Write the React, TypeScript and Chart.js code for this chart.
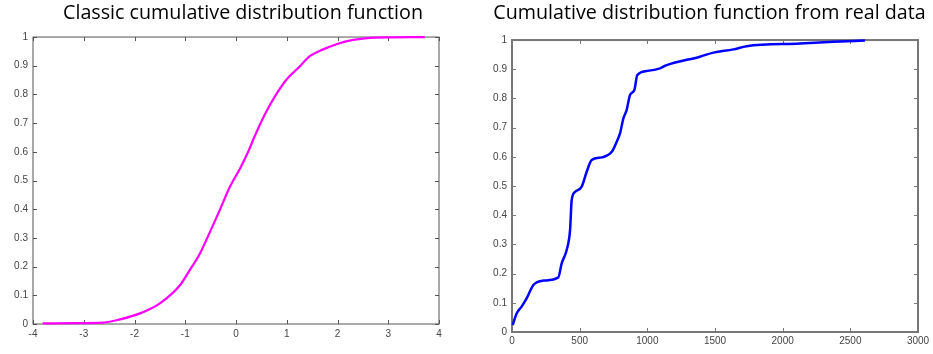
import React, { useEffect, useRef } from "react";
import { Chart, registerables } from "chart.js";

Chart.register(...registerables);

const leftTitle = "Classic cumulative distribution function";
const rightTitle = "Cumulative distribution function from real data";

const leftX = [-3.81, -3.2, -2.61, -2.29, -1.89, -1.5, -1.1, -0.91, -0.71, -0.51, -0.32, -0.12, 0.08, 0.24, 0.37, 0.57, 0.77, 1.0, 1.23, 1.46, 1.72, 1.98, 2.31, 2.64, 3.0, 3.72];
const leftY = [0.002, 0.003, 0.005, 0.016, 0.037, 0.072, 0.136, 0.188, 0.246, 0.322, 0.397, 0.478, 0.542, 0.6, 0.655, 0.731, 0.794, 0.853, 0.893, 0.934, 0.957, 0.975, 0.99, 0.997, 0.999, 1.0];

const rightX = [5, 35, 71, 108, 158, 232, 342, 367, 404, 429, 441, 466, 515, 552, 589, 663, 737, 774, 798, 823, 847, 872, 904, 926, 995, 1094, 1143, 1389, 1488, 1636, 1734, 2128, 2375, 2608];
const rightY = [0.024, 0.064, 0.087, 0.115, 0.161, 0.176, 0.187, 0.235, 0.281, 0.349, 0.452, 0.48, 0.498, 0.549, 0.589, 0.598, 0.617, 0.652, 0.68, 0.732, 0.76, 0.812, 0.829, 0.88, 0.894, 0.903, 0.914, 0.943, 0.957, 0.968, 0.979, 0.988, 0.994, 0.998];

const leftXTicks = { min: -4, max: 4, step: 1 };
const rightXTicks = { min: 0, max: 3000, step: 500 };
const yTicks = { min: 0, max: 1, step: 0.1 };

const boxPlugin = {
  id: "matlabBox",
  beforeDatasetsDraw(chart: any, _args: any, opts: any) {
    const { ctx, chartArea: a } = chart;
    const xs = chart.scales.x;
    const ys = chart.scales.y;
    ctx.save();
    ctx.strokeStyle = opts.color || "#555";
    ctx.lineWidth = opts.width || 1;
    ctx.strokeRect(a.left, a.top, a.right - a.left, a.bottom - a.top);
    const len = 4;
    ctx.beginPath();
    xs.ticks.forEach((t: any) => {
      const p = Math.round(xs.getPixelForValue(t.value)) + 0.5;
      ctx.moveTo(p, a.bottom);
      ctx.lineTo(p, a.bottom - len);
      ctx.moveTo(p, a.top);
      ctx.lineTo(p, a.top + len);
    });
    ys.ticks.forEach((t: any) => {
      const p = Math.round(ys.getPixelForValue(t.value)) + 0.5;
      ctx.moveTo(a.left, p);
      ctx.lineTo(a.left + len, p);
      ctx.moveTo(a.right, p);
      ctx.lineTo(a.right - len, p);
    });
    ctx.lineWidth = 1;
    ctx.stroke();
    ctx.restore();
  },
};

type Cfg = {
  title: string;
  xs: number[];
  ys: number[];
  color: string;
  lineWidth: number;
  xt: { min: number; max: number; step: number };
  yWidth: number;
  xHeight: number;
  rightGap: number;
  titleBottom: number;
  boxWidth: number;
  boxColor: string;
  xPad: number;
};

function CdfChart({ cfg, width, height }: { cfg: Cfg; width: number; height: number }) {
  const ref = useRef<HTMLCanvasElement>(null);
  useEffect(() => {
    if (!ref.current) return;
    const tickFont = { family: "'Liberation Sans', Arial, sans-serif", size: 10 };
    const chart = new Chart(ref.current, {
      type: "line",
      data: {
        datasets: [
          {
            data: cfg.xs.map((x, i) => ({ x, y: cfg.ys[i] })),
            borderColor: cfg.color,
            borderWidth: cfg.lineWidth,
            pointRadius: 0,
            cubicInterpolationMode: "monotone",
            fill: false,
            clip: 4,
            yAxisID: "y",
          } as any,
        ],
      },
      options: {
        responsive: false,
        animation: false,
        devicePixelRatio: 1,
        layout: { padding: 0 },
        plugins: {
          legend: { display: false },
          tooltip: { enabled: false },
          title: {
            display: true,
            text: cfg.title,
            color: "#000",
            font: { family: "'Open Sans', sans-serif", size: 19.7, weight: "normal", lineHeight: 1.2 },
            padding: { top: 2, bottom: cfg.titleBottom },
          },
          matlabBox: { color: cfg.boxColor, width: cfg.boxWidth },
        } as any,
        scales: {
          x: {
            type: "linear",
            min: cfg.xt.min,
            max: cfg.xt.max,
            grid: { display: false, drawTicks: false },
            border: { display: false },
            ticks: {
              stepSize: cfg.xt.step,
              color: "#444",
              font: tickFont,
              padding: cfg.xPad,
              maxRotation: 0,
              callback: (v: any) => String(v),
            },
            afterFit: (s: any) => {
              s.height = cfg.xHeight;
            },
          },
          y: {
            type: "linear",
            position: "left",
            min: yTicks.min,
            max: yTicks.max,
            grid: { display: false, drawTicks: false },
            border: { display: false },
            ticks: {
              stepSize: yTicks.step,
              color: "#444",
              font: tickFont,
              padding: 5,
              callback: (v: any) => String(Math.round(Number(v) * 10) / 10),
            },
            afterFit: (s: any) => {
              s.width = cfg.yWidth;
            },
          },
          spacer: {
            type: "linear",
            position: "right",
            display: true,
            min: 0,
            max: 1,
            grid: { display: false, drawTicks: false },
            border: { display: false },
            ticks: { display: false },
            afterFit: (s: any) => {
              s.width = cfg.rightGap;
            },
          },
        },
      },
      plugins: [boxPlugin],
    });
    return () => chart.destroy();
  }, []);
  return <canvas ref={ref} width={width} height={height} style={{ width, height, display: "block" }} />;
}

const leftCfg: Cfg = {
  title: leftTitle,
  xs: leftX,
  ys: leftY,
  color: "#ff00ff",
  lineWidth: 2.2,
  xt: leftXTicks,
  yWidth: 33,
  xHeight: 30,
  rightGap: 47,
  titleBottom: 11.4,
  boxWidth: 1,
  boxColor: "#555",
  xPad: 4,
};

const rightCfg: Cfg = {
  title: rightTitle,
  xs: rightX,
  ys: rightY,
  color: "#0000ff",
  lineWidth: 2.5,
  xt: rightXTicks,
  yWidth: 26,
  xHeight: 22,
  rightGap: 15,
  titleBottom: 14.4,
  boxWidth: 2,
  boxColor: "#777",
  xPad: 3,
};

export default function App() {
  return (
    <div style={{ position: "absolute", left: 0, top: 0, width: 933, height: 354, background: "#fff", display: "flex" }}>
      <CdfChart cfg={leftCfg} width={486} height={354} />
      <CdfChart cfg={rightCfg} width={447} height={354} />
    </div>
  );
}
